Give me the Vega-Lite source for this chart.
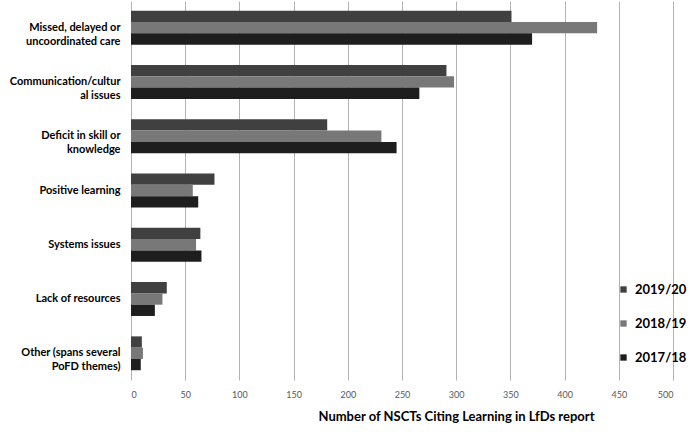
{
  "$schema": "https://vega.github.io/schema/vega-lite/v6.json",
  "width": 542,
  "height": 379,
  "autosize": {"type": "none"},
  "padding": {"left": 131, "top": 1, "right": 21, "bottom": 52},
  "background": "white",
  "config": {
    "font": "Lato",
    "view": {"stroke": null}
  },
  "data": {
    "values": [
      {"theme": "Missed, delayed or|uncoordinated care", "year": "2019/20", "count": 351},
      {"theme": "Missed, delayed or|uncoordinated care", "year": "2018/19", "count": 430},
      {"theme": "Missed, delayed or|uncoordinated care", "year": "2017/18", "count": 370},
      {"theme": "Communication/cultur|al issues", "year": "2019/20", "count": 291},
      {"theme": "Communication/cultur|al issues", "year": "2018/19", "count": 298},
      {"theme": "Communication/cultur|al issues", "year": "2017/18", "count": 266},
      {"theme": "Deficit in skill or|knowledge", "year": "2019/20", "count": 181},
      {"theme": "Deficit in skill or|knowledge", "year": "2018/19", "count": 231},
      {"theme": "Deficit in skill or|knowledge", "year": "2017/18", "count": 245},
      {"theme": "Positive learning", "year": "2019/20", "count": 77},
      {"theme": "Positive learning", "year": "2018/19", "count": 57},
      {"theme": "Positive learning", "year": "2017/18", "count": 62},
      {"theme": "Systems issues", "year": "2019/20", "count": 64},
      {"theme": "Systems issues", "year": "2018/19", "count": 60},
      {"theme": "Systems issues", "year": "2017/18", "count": 65},
      {"theme": "Lack of resources", "year": "2019/20", "count": 33},
      {"theme": "Lack of resources", "year": "2018/19", "count": 29},
      {"theme": "Lack of resources", "year": "2017/18", "count": 22},
      {"theme": "Other (spans several|PoFD themes)", "year": "2019/20", "count": 10},
      {"theme": "Other (spans several|PoFD themes)", "year": "2018/19", "count": 11},
      {"theme": "Other (spans several|PoFD themes)", "year": "2017/18", "count": 9}
    ]
  },
  "mark": {"type": "bar"},
  "encoding": {
    "y": {
      "field": "theme",
      "type": "nominal",
      "sort": null,
      "scale": {"paddingInner": 0.376, "paddingOuter": 0.18},
      "axis": {
        "title": null,
        "domain": false,
        "ticks": false,
        "labelExpr": "split(datum.label, '|')",
        "labelFont": "Lato",
        "labelFontWeight": "bold",
        "labelFontSize": 11,
        "labelColor": "#000000",
        "labelLineHeight": 14,
        "labelPadding": 11,
        "labelLimit": 200
      }
    },
    "yOffset": {
      "field": "year",
      "type": "nominal",
      "sort": ["2019/20", "2018/19", "2017/18"],
      "scale": {"paddingInner": 0, "paddingOuter": 0}
    },
    "x": {
      "field": "count",
      "type": "quantitative",
      "scale": {"domain": [0, 500], "nice": false},
      "axis": {
        "values": [0, 50, 100, 150, 200, 250, 300, 350, 400, 450, 500],
        "grid": true,
        "gridColor": "#b3b3b3",
        "gridWidth": 1,
        "domain": false,
        "ticks": false,
        "labelFontSize": 9,
        "labelColor": "#595959",
        "labelPadding": 10,
        "title": "Number of NSCTs Citing Learning in LfDs report",
        "titleFontSize": 13,
        "titleFontWeight": "bold",
        "titleColor": "#000000",
        "titleAnchor": "start",
        "titleAlign": "left",
        "titleX": 187,
        "titleY": 40,
        "titleBaseline": "alphabetic"
      }
    },
    "color": {
      "field": "year",
      "type": "nominal",
      "sort": ["2019/20", "2018/19", "2017/18"],
      "scale": {"domain": ["2019/20", "2018/19", "2017/18"], "range": ["#404040", "#787878", "#1e1e1e"]},
      "legend": {
        "title": null,
        "orient": "none",
        "legendX": 486,
        "legendY": 282,
        "padding": 0,
        "symbolType": "square",
        "symbolSize": 40,
        "symbolStrokeWidth": 0,
        "labelFontSize": 13,
        "labelFontWeight": "bold",
        "labelColor": "#000000",
        "labelOffset": 5,
        "rowPadding": 20
      }
    }
  }
}
